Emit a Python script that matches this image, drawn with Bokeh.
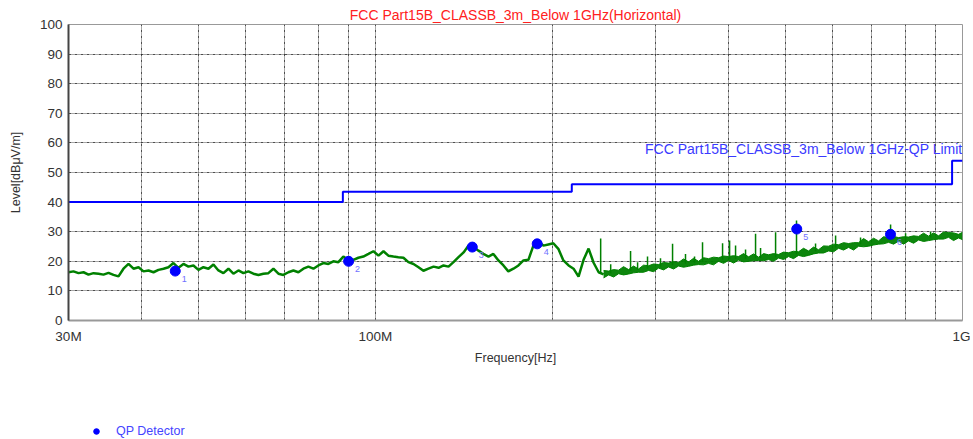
from bokeh.plotting import figure
from bokeh.layouts import column
from bokeh.models import FixedTicker, Legend, LegendItem, Label, Range1d, ColumnDataSource
from bokeh.embed import file_html
from bokeh.resources import INLINE

# ---------------- data (MHz / dBuV/m) ----------------
# lower part of the sweep (single noisy trace)
trace_freq_mhz = [
    30.00, 30.59, 31.20, 31.82, 32.45, 33.09, 33.75, 34.41, 35.10, 35.79,
    36.50, 37.22, 37.96, 38.71, 39.48, 40.26, 41.06, 41.87, 42.70, 43.55,
    44.40, 45.28, 46.18, 47.09, 48.02, 48.97, 49.94, 50.93, 51.94, 52.97,
    54.01, 55.08, 56.17, 57.28, 58.42, 59.57, 60.75, 61.95, 63.18, 64.43,
    65.71, 67.01, 68.34, 69.69, 71.07, 72.48, 73.92, 75.38, 76.87, 78.40,
    79.94, 81.52, 83.14, 84.78, 86.46, 88.17, 89.92, 91.70, 93.51, 95.36,
    97.29, 99.22, 101.2, 103.2, 105.2, 107.3, 109.4, 111.6, 113.8, 116.1,
    118.4, 120.7, 123.1, 125.6, 128.1, 130.6, 133.2, 135.8, 138.5, 141.3,
    144.0, 146.9, 149.8, 152.7, 155.8, 158.8, 162.0, 165.2, 168.4, 171.8,
    175.2, 178.7, 182.2, 185.8, 189.5, 193.2, 197.0, 200.9, 204.9, 209.0,
    213.3, 217.5, 221.8, 226.2, 230.7, 235.3, 240.0, 244.7,
]
trace_level = [
    16.3, 16.6, 16.0, 16.3, 15.5, 16.0, 15.8, 15.5, 16.1, 15.4,
    14.9, 17.5, 19.1, 17.5, 18.0, 16.6, 16.9, 16.3, 17.1, 17.5,
    18.0, 19.4, 17.8, 19.1, 18.2, 18.6, 17.1, 18.0, 17.5, 18.9,
    16.9, 16.0, 17.5, 15.8, 16.9, 16.0, 16.6, 15.8, 15.4, 15.8,
    16.0, 17.5, 15.8, 15.4, 16.3, 16.9, 16.3, 17.5, 18.2, 17.5,
    18.6, 19.4, 19.1, 20.0, 19.7, 21.6, 20.5, 20.5, 21.2, 21.6,
    22.5, 23.4, 21.9, 23.4, 21.9, 21.6, 21.4, 21.2, 19.7, 19.1,
    18.0, 16.8, 17.5, 18.2, 17.8, 18.6, 18.2, 19.7, 21.4, 23.0,
    25.3, 24.8, 23.6, 22.5, 21.6, 22.5, 20.3, 18.6, 16.6, 17.5,
    18.6, 20.3, 20.5, 25.3, 26.8, 25.3, 25.7, 26.1, 24.2, 20.3,
    18.6, 17.5, 14.8, 20.5, 24.3, 19.5, 16.3, 15.6,
]

# upper part of the sweep: dense noise band (read as its upper / lower edge)
band_freq_mhz = [
    244.7, 249.6, 254.5, 259.5, 264.6, 269.9, 275.2, 280.7,
    286.2, 291.9, 297.7, 303.5, 309.6, 315.7, 322.0, 328.3, 334.8, 341.5,
    348.2, 355.1, 362.1, 369.3, 376.6, 384.1, 391.7, 399.5, 407.4, 415.4,
    423.7, 432.1, 440.6, 449.4, 458.3, 467.3, 476.6, 486.0, 495.6, 505.4,
    515.4, 525.6, 536.0, 546.6, 557.5, 568.6, 579.8, 591.3, 603.1, 615.0,
    627.2, 639.6, 652.3, 665.2, 678.4, 691.8, 705.5, 719.5, 733.7, 748.3,
    763.1, 778.2, 793.6, 809.3, 825.4, 841.7, 858.4, 875.4, 892.7, 910.4,
    928.4, 946.8, 965.5, 984.6, 1000.0,
]
band_high = [
    16.9, 16.7, 17.2, 17.0, 18.2, 17.2, 18.4, 17.4,
    18.7, 18.5, 19.1, 18.9, 19.6, 19.4, 19.9, 19.6, 20.8, 19.8,
    21.0, 20.0, 21.2, 20.9, 21.4, 21.2, 21.8, 21.6, 21.9, 21.6,
    22.6, 21.5, 22.5, 21.4, 22.6, 22.2, 22.6, 22.3, 23.1, 22.9,
    23.4, 23.2, 24.4, 23.5, 24.8, 23.9, 25.2, 25.1, 25.8, 25.6,
    26.3, 26.0, 26.3, 26.3, 27.7, 26.6, 27.8, 26.9, 28.3, 28.0,
    28.4, 28.0, 28.3, 28.2, 28.6, 28.4, 29.5, 28.5, 29.6, 28.6,
    29.9, 29.7, 29.6, 29.1, 29.8,
]
band_low = [
    14.4, 15.4, 14.7, 15.8, 15.4, 15.7, 16.1, 16.3,
    16.3, 16.9, 16.5, 17.7, 17.1, 18.1, 17.4, 18.4, 18.0, 18.3,
    18.7, 18.9, 18.8, 19.3, 18.8, 20.0, 19.3, 20.3, 19.4, 20.4,
    19.8, 20.0, 20.2, 20.3, 20.2, 20.6, 20.0, 21.1, 20.6, 21.6,
    20.9, 22.0, 21.6, 22.0, 22.5, 22.8, 22.8, 23.5, 23.2, 24.4,
    23.8, 24.7, 23.8, 25.1, 24.9, 25.1, 25.5, 25.8, 25.9, 26.4,
    25.8, 26.8, 25.8, 26.9, 26.1, 27.2, 26.7, 27.0, 27.3, 27.5,
    27.5, 28.1, 27.0, 27.9, 27.3,
]

# narrow spurious spikes rising out of the band
spike_freq_mhz = [241.9, 251.6, 272.0, 279.6, 290.7, 305.9, 320.7, 337.4,
                  349.6, 360.7, 390.2, 401.1, 410.6, 427.0, 444.1, 452.9,
                  480.4, 521.5, 561.9, 607.9, 670.4, 754.2, 799.9, 882.3]
spike_base = [16.0, 15.9, 16.8, 17.1, 17.5, 18.2, 18.7, 19.2,
              19.5, 19.8, 20.5, 20.7, 20.8, 20.9, 21.0, 21.1,
              21.4, 22.4, 23.4, 24.7, 25.8, 27.1, 27.1, 28.0]
spike_level = [27.7, 19.0, 23.5, 19.7, 21.6, 21.0, 25.9, 22.5,
               21.6, 26.4, 26.1, 27.0, 25.3, 24.0, 29.3, 24.5,
               29.8, 33.8, 26.0, 28.7, 28.0, 32.4, 29.5, 30.0]

limit_freq_mhz = [30, 88, 88, 216, 216, 960, 960, 1000]
limit_level = [40, 40, 43.5, 43.5, 46, 46, 54, 54]

qp_freq_mhz = [45.6, 90.0, 146.2, 188.6, 522.0, 754.0]
qp_level = [16.7, 20.0, 24.8, 25.9, 30.9, 29.1]
qp_labels = ["1", "2", "3", "4", "5", "6"]

x_tick_values = [30, 100, 1000]
x_tick_labels = ["30M", "100M", "1G"]
x_grid_values = [40, 50, 60, 70, 80, 90, 100, 200, 300, 400, 500, 600, 700, 800, 900]
y_tick_values = [0, 10, 20, 30, 40, 50, 60, 70, 80, 90, 100]

title_text = "FCC Part15B_CLASSB_3m_Below 1GHz(Horizontal)"
limit_text = "FCC Part15B_CLASSB_3m_Below 1GHz-QP Limit"
legend_text = "QP Detector"

FONT = "Liberation Sans"
GREEN = "#008000"
BLUE = "#0000ff"

pts = sorted(zip(trace_freq_mhz, trace_level))
trace_src = ColumnDataSource(dict(f=[a for a, b in pts], l=[b for a, b in pts]))

p = figure(width=970, height=370, frame_width=894, frame_height=296,
           x_axis_type="log",
           x_range=Range1d(30, 1000), y_range=Range1d(0, 100),
           output_backend="svg", toolbar_location=None,
           min_border_left=68, min_border_right=8, min_border_top=24,
           min_border_bottom=50)

p.title.text = title_text
p.title.align = "center"
p.title.text_font = FONT
p.title.text_font_size = "14px"
p.title.text_font_style = "normal"
p.title.text_color = "#ff2020"
p.title.standoff = 4

p.outline_line_color = "#999999"
p.outline_line_width = 1

# axes
p.xaxis.ticker = FixedTicker(ticks=x_tick_values)
p.xaxis.major_label_overrides = {v: t for v, t in zip(x_tick_values, x_tick_labels)}
p.yaxis.ticker = FixedTicker(ticks=y_tick_values)
for ax in (p.xaxis, p.yaxis):
    ax.major_tick_line_color = None
    ax.minor_tick_line_color = None
    ax.major_label_text_font = FONT
    ax.major_label_text_font_size = "13.5px"
    ax.major_label_text_color = "#333333"
    ax.axis_label_text_font = FONT
    ax.axis_label_text_font_size = "12.5px"
    ax.axis_label_text_font_style = "normal"
    ax.axis_label_text_color = "#333333"
p.xaxis.axis_line_color = "#999999"
p.xaxis.axis_line_width = 2
p.yaxis.axis_line_color = "#444444"
p.yaxis.axis_line_width = 2
p.xaxis.major_label_standoff = 2
p.yaxis.major_label_standoff = 0
p.xaxis.axis_label = "Frequency[Hz]"
p.yaxis.axis_label = "Level[dB\u03bcV/m]"
p.xaxis.axis_label_standoff = 4
p.yaxis.axis_label_standoff = 14

# grids
p.xgrid.ticker = FixedTicker(ticks=x_grid_values)
p.ygrid.ticker = FixedTicker(ticks=y_tick_values)
for g in (p.xgrid, p.ygrid):
    g.grid_line_color = "#222222"
    g.grid_line_dash = "3 1 1 1"
    g.grid_line_width = 1
    g.grid_line_alpha = 0.8

# limit line
p.line(limit_freq_mhz, limit_level, line_color=BLUE, line_width=2)

# trace: lower sweep as a line, upper sweep as a dense band + spikes
p.line("f", "l", source=trace_src, line_color=GREEN, line_width=2.5)
p.varea(x=band_freq_mhz, y1=band_low, y2=band_high, fill_color=GREEN, fill_alpha=0.95)
p.line(band_freq_mhz, band_high, line_color=GREEN, line_width=1)
p.line(band_freq_mhz, band_low, line_color=GREEN, line_width=1)
p.segment(x0=spike_freq_mhz, y0=spike_base, x1=spike_freq_mhz, y1=spike_level,
          line_color=GREEN, line_width=1.5)

# QP markers
qp_src = ColumnDataSource(dict(f=qp_freq_mhz, l=qp_level, t=qp_labels))
p.scatter("f", "l", source=qp_src, size=10, marker="circle",
          fill_color=BLUE, line_color=BLUE)
p.text("f", "l", text="t", source=qp_src, x_offset=9, y_offset=8,
       text_font_size="9px", text_color="#7070ff", text_align="center",
       text_baseline="middle")

# limit label
p.add_layout(Label(x=1000, y=58.0, text=limit_text, text_align="right",
                   text_baseline="middle", text_font=FONT,
                   text_font_size="14px", text_color="#3a3aff"))

# legend strip below the chart
lg = figure(width=970, height=68, x_range=Range1d(0, 1), y_range=Range1d(0, 1),
            output_backend="svg", toolbar_location=None,
            min_border_left=68, min_border_right=8, min_border_top=0,
            min_border_bottom=0, outline_line_color=None)
lg.axis.visible = False
lg.grid.visible = False
qp_proxy = lg.scatter(qp_freq_mhz, qp_level, size=10, marker="circle",
                      fill_color=BLUE, line_color=BLUE)
legend = Legend(items=[LegendItem(label=legend_text, renderers=[qp_proxy])],
                location=(21, 0), padding=0, margin=0, spacing=0,
                glyph_width=14, glyph_height=14, label_height=14,
                label_standoff=13, border_line_color=None,
                background_fill_color=None,
                label_text_font=FONT, label_text_font_size="12.5px",
                label_text_color="#4444ff")
lg.add_layout(legend)

layout = column(p, lg, spacing=0)
open("out.html", "w").write(file_html(layout, INLINE))
